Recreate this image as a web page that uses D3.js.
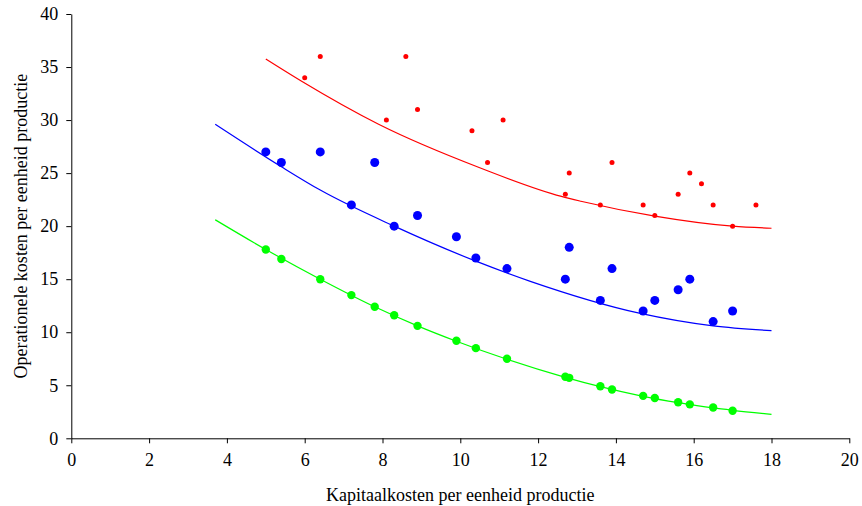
<!DOCTYPE html>
<meta charset="utf-8">
<style>
body { margin: 0; background: #fff; }
.axis text { font-family: "Liberation Serif", "Times New Roman", serif; font-size: 18px; fill: #000; }
.axis path, .axis line { stroke: #000; stroke-width: 1; }
.title { font-family: "Liberation Serif", "Times New Roman", serif; font-size: 18px; fill: #000; }
.fit { fill: none; stroke-width: 1.2; }
</style>
<body></body>
<script src="https://d3js.org/d3.v7.min.js"></script>
<script>
// x values of the observations (same for blue and green, red has its own)
var xObs = [5, 5.4, 6.4, 7.2, 7.8, 8.3, 8.9, 9.9, 10.4, 11.2, 12.7, 12.8, 13.6, 13.9, 14.7, 15, 15.6, 15.9, 16.5, 17];
var blueY = [27, 26, 27, 22, 26, 20, 21, 19, 17, 16, 15, 18, 13, 16, 12, 13, 14, 15, 11, 12];
var greenY = [17.8, 16.9, 15, 13.5, 12.4, 11.6, 10.6, 9.2, 8.5, 7.5, 5.8, 5.7, 4.9, 4.6, 4.0, 3.8, 3.4, 3.2, 2.9, 2.6];

var redX = [6, 6.4, 8.1, 8.6, 8.9, 10.3, 10.7, 11.1, 12.7, 12.8, 13.6, 13.9, 14.7, 15, 15.6, 15.9, 16.2, 16.5, 17, 17.6];
var redY = [34, 36, 30, 36, 31, 29, 26, 30, 23, 25, 22, 26, 22, 21, 23, 25, 24, 22, 20, 22];

// trend lines
var redFitX = [5, 5.9, 7.9, 10.5, 12.6, 13.1, 15, 17, 18];
var redFitY = [35.75, 33.7, 29.6, 25.5, 22.8, 22.35, 20.95, 20.0, 19.8];
var blueFitX = [3.7, 5.4, 6.4, 8.3, 10.4, 11.8, 14.6, 16.5, 18];
var blueFitY = [29.6, 25.6, 23.4, 20.0, 16.7, 14.8, 11.8, 10.6, 10.15];
var greenFitX = [3.7, 5, 6.4, 7.8, 8.9, 9.9, 11.2, 12.7, 13.6, 14.7, 15.6, 16.5, 17, 18];
var greenFitY = [20.6, 17.8, 15.0, 12.4, 10.6, 9.15, 7.45, 5.75, 4.87, 3.96, 3.36, 2.86, 2.64, 2.26];

var xTicks = d3.range(0, 21, 2);
var yTicks = d3.range(0, 41, 5);

var margin = {top: 14, right: 12.7, bottom: 67.7, left: 71.3},
    W = 862, H = 506,
    width = W - margin.left - margin.right,
    height = H - margin.top - margin.bottom;

var svg = d3.select("body").append("svg")
    .attr("width", W)
    .attr("height", H)
  .append("g")
    .attr("transform", "translate(" + margin.left + "," + margin.top + ")");

var x = d3.scaleLinear().domain([0, 20]).range([0, width]);
var y = d3.scaleLinear().domain([0, 40]).range([height, 0]);

svg.append("g")
    .attr("class", "axis")
    .attr("transform", "translate(0," + height + ")")
    .call(d3.axisBottom(x).tickValues(xTicks).tickSize(5).tickSizeOuter(0).tickPadding(10));

svg.append("g")
    .attr("class", "axis")
    .call(d3.axisLeft(y).tickValues(yTicks).tickSize(5).tickSizeOuter(0).tickPadding(8));

function zip(xs, ys) { return xs.map(function(v, i) { return [v, ys[i]]; }); }

var line = d3.line()
    .x(function(d) { return x(d[0]); })
    .y(function(d) { return y(d[1]); })
    .curve(d3.curveMonotoneX);

svg.append("path").attr("class", "fit").attr("stroke", "#ff0000").attr("d", line(zip(redFitX, redFitY)));
svg.append("path").attr("class", "fit").attr("stroke", "#0000ff").attr("d", line(zip(blueFitX, blueFitY)));
svg.append("path").attr("class", "fit").attr("stroke", "#00ff00").attr("d", line(zip(greenFitX, greenFitY)));

function dots(xs, ys, r, color) {
  svg.append("g").selectAll("circle")
      .data(zip(xs, ys))
    .enter().append("circle")
      .attr("cx", function(d) { return x(d[0]); })
      .attr("cy", function(d) { return y(d[1]); })
      .attr("r", r)
      .attr("fill", color);
}
dots(xObs, blueY, 4.5, "#0000ff");
dots(xObs, greenY, 4.2, "#00ff00");
dots(redX, redY, 2.5, "#ff0000");

svg.append("text")
    .attr("class", "title")
    .attr("x", x(10))
    .attr("y", height + 63)
    .attr("text-anchor", "middle")
    .text("Kapitaalkosten per eenheid productie");

svg.append("text")
    .attr("class", "title")
    .attr("transform", "rotate(-90)")
    .attr("x", -height / 2)
    .attr("y", 27 - margin.left)
    .attr("text-anchor", "middle")
    .text("Operationele kosten per eenheid productie");
</script>
